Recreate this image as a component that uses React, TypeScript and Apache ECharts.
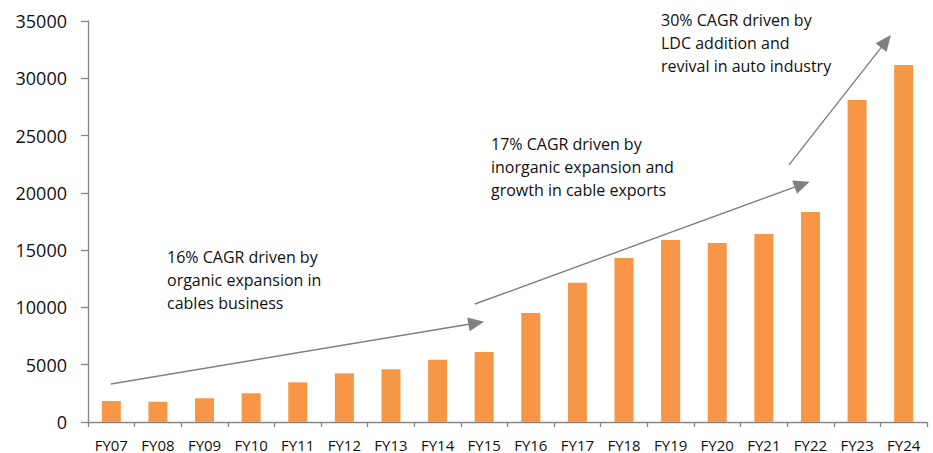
import React, { useEffect, useRef } from "react";
import * as echarts from "echarts";

const categories = ["FY07","FY08","FY09","FY10","FY11","FY12","FY13","FY14","FY15","FY16","FY17","FY18","FY19","FY20","FY21","FY22","FY23","FY24"];
const values = [1830, 1770, 2070, 2500, 3460, 4250, 4600, 5440, 6110, 9520, 12160, 14320, 15890, 15630, 16410, 18330, 28110, 31170];
const yTicks = { min: 0, max: 35000, interval: 5000 };

// arrow annotations: [x position in category units, value]
const arrowStarts = [[0.49, 3320], [8.3, 10300], [15.04, 22440]];
const arrowEnds = [[8.33, 8640], [15.32, 20740], [17.12, 33220]];

const notes = [
  ["16% CAGR driven by", "organic expansion in", "cables business"],
  ["17% CAGR driven by", "inorganic expansion and", "growth in cable exports"],
  ["30% CAGR driven by", "LDC addition and", "revival in auto industry"],
];
const notePos = [[167, 245], [491, 132], [661, 8]];

const FONT = "'Open Sans', sans-serif";

export default function App() {
  const ref = useRef<HTMLDivElement>(null);
  useEffect(() => {
    const chart = echarts.init(ref.current!, null, { renderer: "svg" });
    chart.setOption({
      animation: false,
      backgroundColor: "#ffffff",
      textStyle: { fontFamily: FONT },
      grid: { left: 88, right: 6, top: 21, bottom: 31, containLabel: false },
      xAxis: [
        {
          type: "category",
          data: categories,
          boundaryGap: true,
          axisLine: { lineStyle: { color: "#868686", width: 1.3 } },
          axisTick: { show: true, length: 5, interval: 0, lineStyle: { color: "#868686", width: 1.3 } },
          axisLabel: { color: "#111111", fontSize: 15, margin: 15, interval: 0, fontFamily: FONT },
        },
        { type: "value", min: 0, max: 18, show: false },
      ],
      yAxis: {
        type: "value",
        min: yTicks.min,
        max: yTicks.max,
        interval: yTicks.interval,
        splitLine: { show: false },
        axisLine: { show: true, lineStyle: { color: "#868686", width: 1.3 } },
        axisTick: { show: true, length: 7, lineStyle: { color: "#868686", width: 1.3 } },
        axisLabel: {
          color: "#111111",
          fontSize: 18,
          margin: 21,
          fontFamily: FONT,
          formatter: (v: number) => String(v),
        },
      },
      series: [
        {
          type: "bar",
          data: values,
          barWidth: 19,
          itemStyle: { color: "#F79646" },
        },
        {
          type: "line",
          xAxisIndex: 1,
          data: [[0, 0]],
          showSymbol: false,
          lineStyle: { opacity: 0 },
          silent: true,
          markLine: {
            silent: true,
            symbol: ["none", "triangle"],
            symbolSize: [14, 16],
            label: { show: false },
            lineStyle: { color: "#808080", width: 1.4, type: "solid" },
            itemStyle: { color: "#808080" },
            data: arrowStarts.map((s, i) => [
              { coord: s },
              { coord: arrowEnds[i] },
            ]),
          },
        },
      ],
      graphic: notes.map((lines, i) => ({
        type: "text",
        left: notePos[i][0],
        top: notePos[i][1],
        style: {
          text: lines.join("\n"),
          fontSize: 16,
          lineHeight: 23,
          fill: "#111111",
          fontFamily: FONT,
        },
      })),
    });
    return () => chart.dispose();
  }, []);
  return (
    <div
      ref={ref}
      style={{ position: "fixed", left: 0, top: 0, width: 933, height: 453 }}
    />
  );
}
